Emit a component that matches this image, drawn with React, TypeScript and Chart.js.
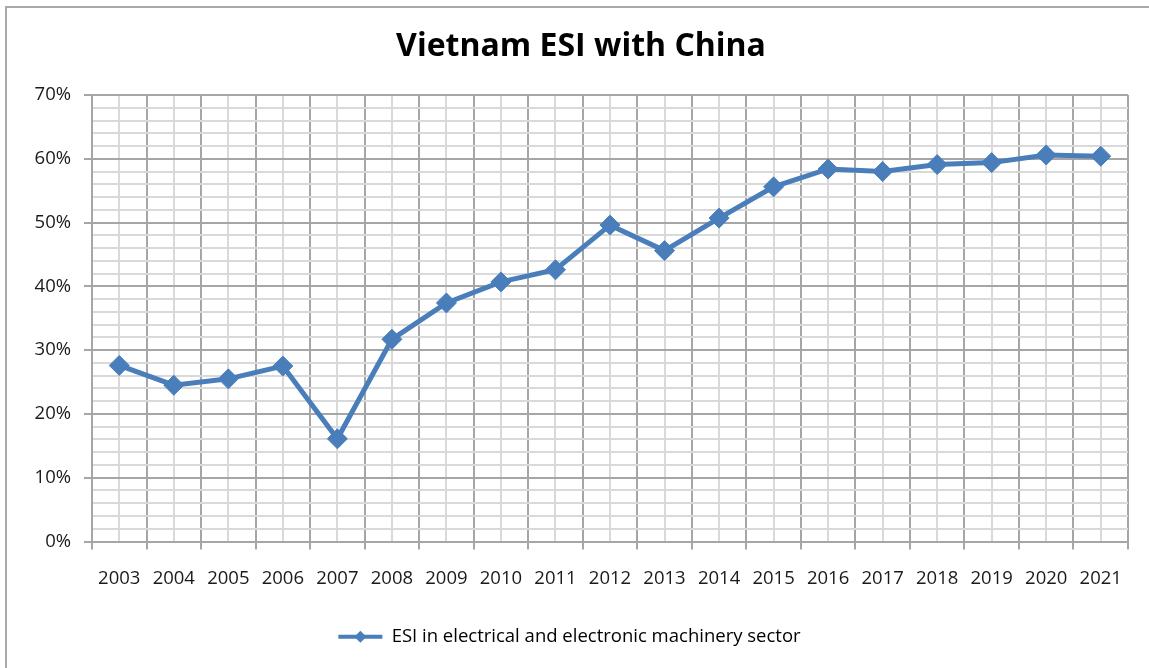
import React, { useEffect, useRef } from "react";
import { Chart, registerables } from "chart.js";

Chart.register(...registerables);

const years = ["2003","2004","2005","2006","2007","2008","2009","2010","2011","2012","2013","2014","2015","2016","2017","2018","2019","2020","2021"];
const esiValues = [27.6, 24.5, 25.5, 27.5, 16.1, 31.7, 37.4, 40.7, 42.6, 49.6, 45.6, 50.7, 55.6, 58.4, 58.0, 59.1, 59.4, 60.6, 60.4];
const seriesName = "ESI in electrical and electronic machinery sector";
const titleText = "Vietnam ESI with China";

const BLUE = "#4a7ebb";
const MAJOR = "#a6a6a6";
const MINOR = "#d9d9d9";
const FONT = "'Open Sans', sans-serif";

const legendDiamond = {
  id: "legendDiamond",
  afterDraw(chart: any) {
    const lg = chart.legend;
    if (!lg || !lg.legendHitBoxes || !lg.legendHitBoxes.length) return;
    const hb = lg.legendHitBoxes[0];
    const bw = lg.options.labels.boxWidth;
    const cx = hb.left + bw / 2;
    const cy = hb.top + hb.height / 2;
    const r = 6;
    const ctx = chart.ctx;
    ctx.save();
    ctx.fillStyle = BLUE;
    ctx.beginPath();
    ctx.moveTo(cx, cy - r);
    ctx.lineTo(cx + r, cy);
    ctx.lineTo(cx, cy + r);
    ctx.lineTo(cx - r, cy);
    ctx.closePath();
    ctx.fill();
    ctx.restore();
  },
};

const chartTitle = {
  id: "chartTitle",
  afterDraw(chart: any) {
    const ctx = chart.ctx;
    ctx.save();
    ctx.fillStyle = "#000";
    ctx.font = `bold 32px ${FONT}`;
    ctx.textAlign = "center";
    ctx.textBaseline = "middle";
    ctx.fillText(titleText, (chart.width + 13) / 2, 47);
    ctx.restore();
  },
};

export default function App() {
  const ref = useRef<HTMLCanvasElement>(null);
  useEffect(() => {
    if (!ref.current) return;
    const chart = new Chart(ref.current, {
      type: "line",
      data: {
        labels: years,
        datasets: [
          {
            label: seriesName,
            data: esiValues,
            borderColor: BLUE,
            backgroundColor: BLUE,
            borderWidth: 5,
            pointStyle: "rectRot",
            pointRadius: 10,
            pointBorderWidth: 1,
            pointBackgroundColor: BLUE,
            pointBorderColor: BLUE,
            tension: 0,
            xAxisID: "x",
          },
        ],
      },
      plugins: [legendDiamond, chartTitle],
      options: {
        animation: false,
        responsive: false,
        events: [],
        layout: { padding: { left: 11, right: 21, top: 95, bottom: 12 } },
        plugins: {
          tooltip: { enabled: false },
          title: { display: false },
          legend: {
            position: "bottom",
            labels: {
              color: "#1a1a1a",
              font: { family: FONT, size: 18.5 },
              boxWidth: 44,
              boxHeight: 4,
              padding: 10,
              generateLabels: () => [
                { text: seriesName, fillStyle: BLUE, strokeStyle: BLUE, lineWidth: 0, datasetIndex: 0, hidden: false } as any,
              ],
            },
          },
        },
        scales: {
          x: {
            type: "category",
            position: "bottom",
            offset: true,
            grid: {
              offset: true,
              color: MAJOR,
              lineWidth: 2,
              tickLength: 8,
              tickColor: MAJOR,
              tickWidth: 2,
            },
            border: { color: MAJOR, width: 2 },
            ticks: {
              color: "#1a1a1a",
              font: { family: FONT, size: 18.5 },
              padding: 18,
              maxRotation: 0,
              autoSkip: false,
            },
            afterFit: (s: any) => { s.height = 76; },
          },
          x2: {
            type: "category",
            position: "top",
            offset: true,
            grid: { offset: false, color: MINOR, lineWidth: 2, drawTicks: false },
            border: { display: false },
            ticks: { display: false },
            afterFit: (s: any) => { s.height = 0; },
          },
          y: {
            type: "linear",
            min: 0,
            max: 70,
            grid: {
              color: (c: any) => (Math.round(c.tick.value) % 10 === 0 ? MAJOR : MINOR),
              lineWidth: 2,
              tickLength: 8,
              tickColor: (c: any) => (Math.round(c.tick.value) % 10 === 0 ? MAJOR : "rgba(0,0,0,0)"),
              tickWidth: 2,
            },
            border: { color: MAJOR, width: 2 },
            ticks: {
              stepSize: 2,
              autoSkip: false,
              color: "#1a1a1a",
              font: { family: FONT, size: 18.5 },
              padding: 13,
              callback: (v: any) => (Math.round(Number(v)) % 10 === 0 ? `${v}%` : ""),
            },
            afterFit: (s: any) => { s.width = 81; },
          },
        },
      } as any,
    });
    return () => chart.destroy();
  }, []);

  return (
    <div style={{ position: "absolute", left: 0, top: 0, width: 1149, height: 668, overflow: "hidden", background: "#fff" }}>
      <div style={{ position: "absolute", left: 5, top: 6, width: 1300, height: 800, border: "2px solid #a9a9a9" }} />
      <canvas ref={ref} width={1149} height={668} style={{ position: "absolute", left: 0, top: 0 }} />
    </div>
  );
}
